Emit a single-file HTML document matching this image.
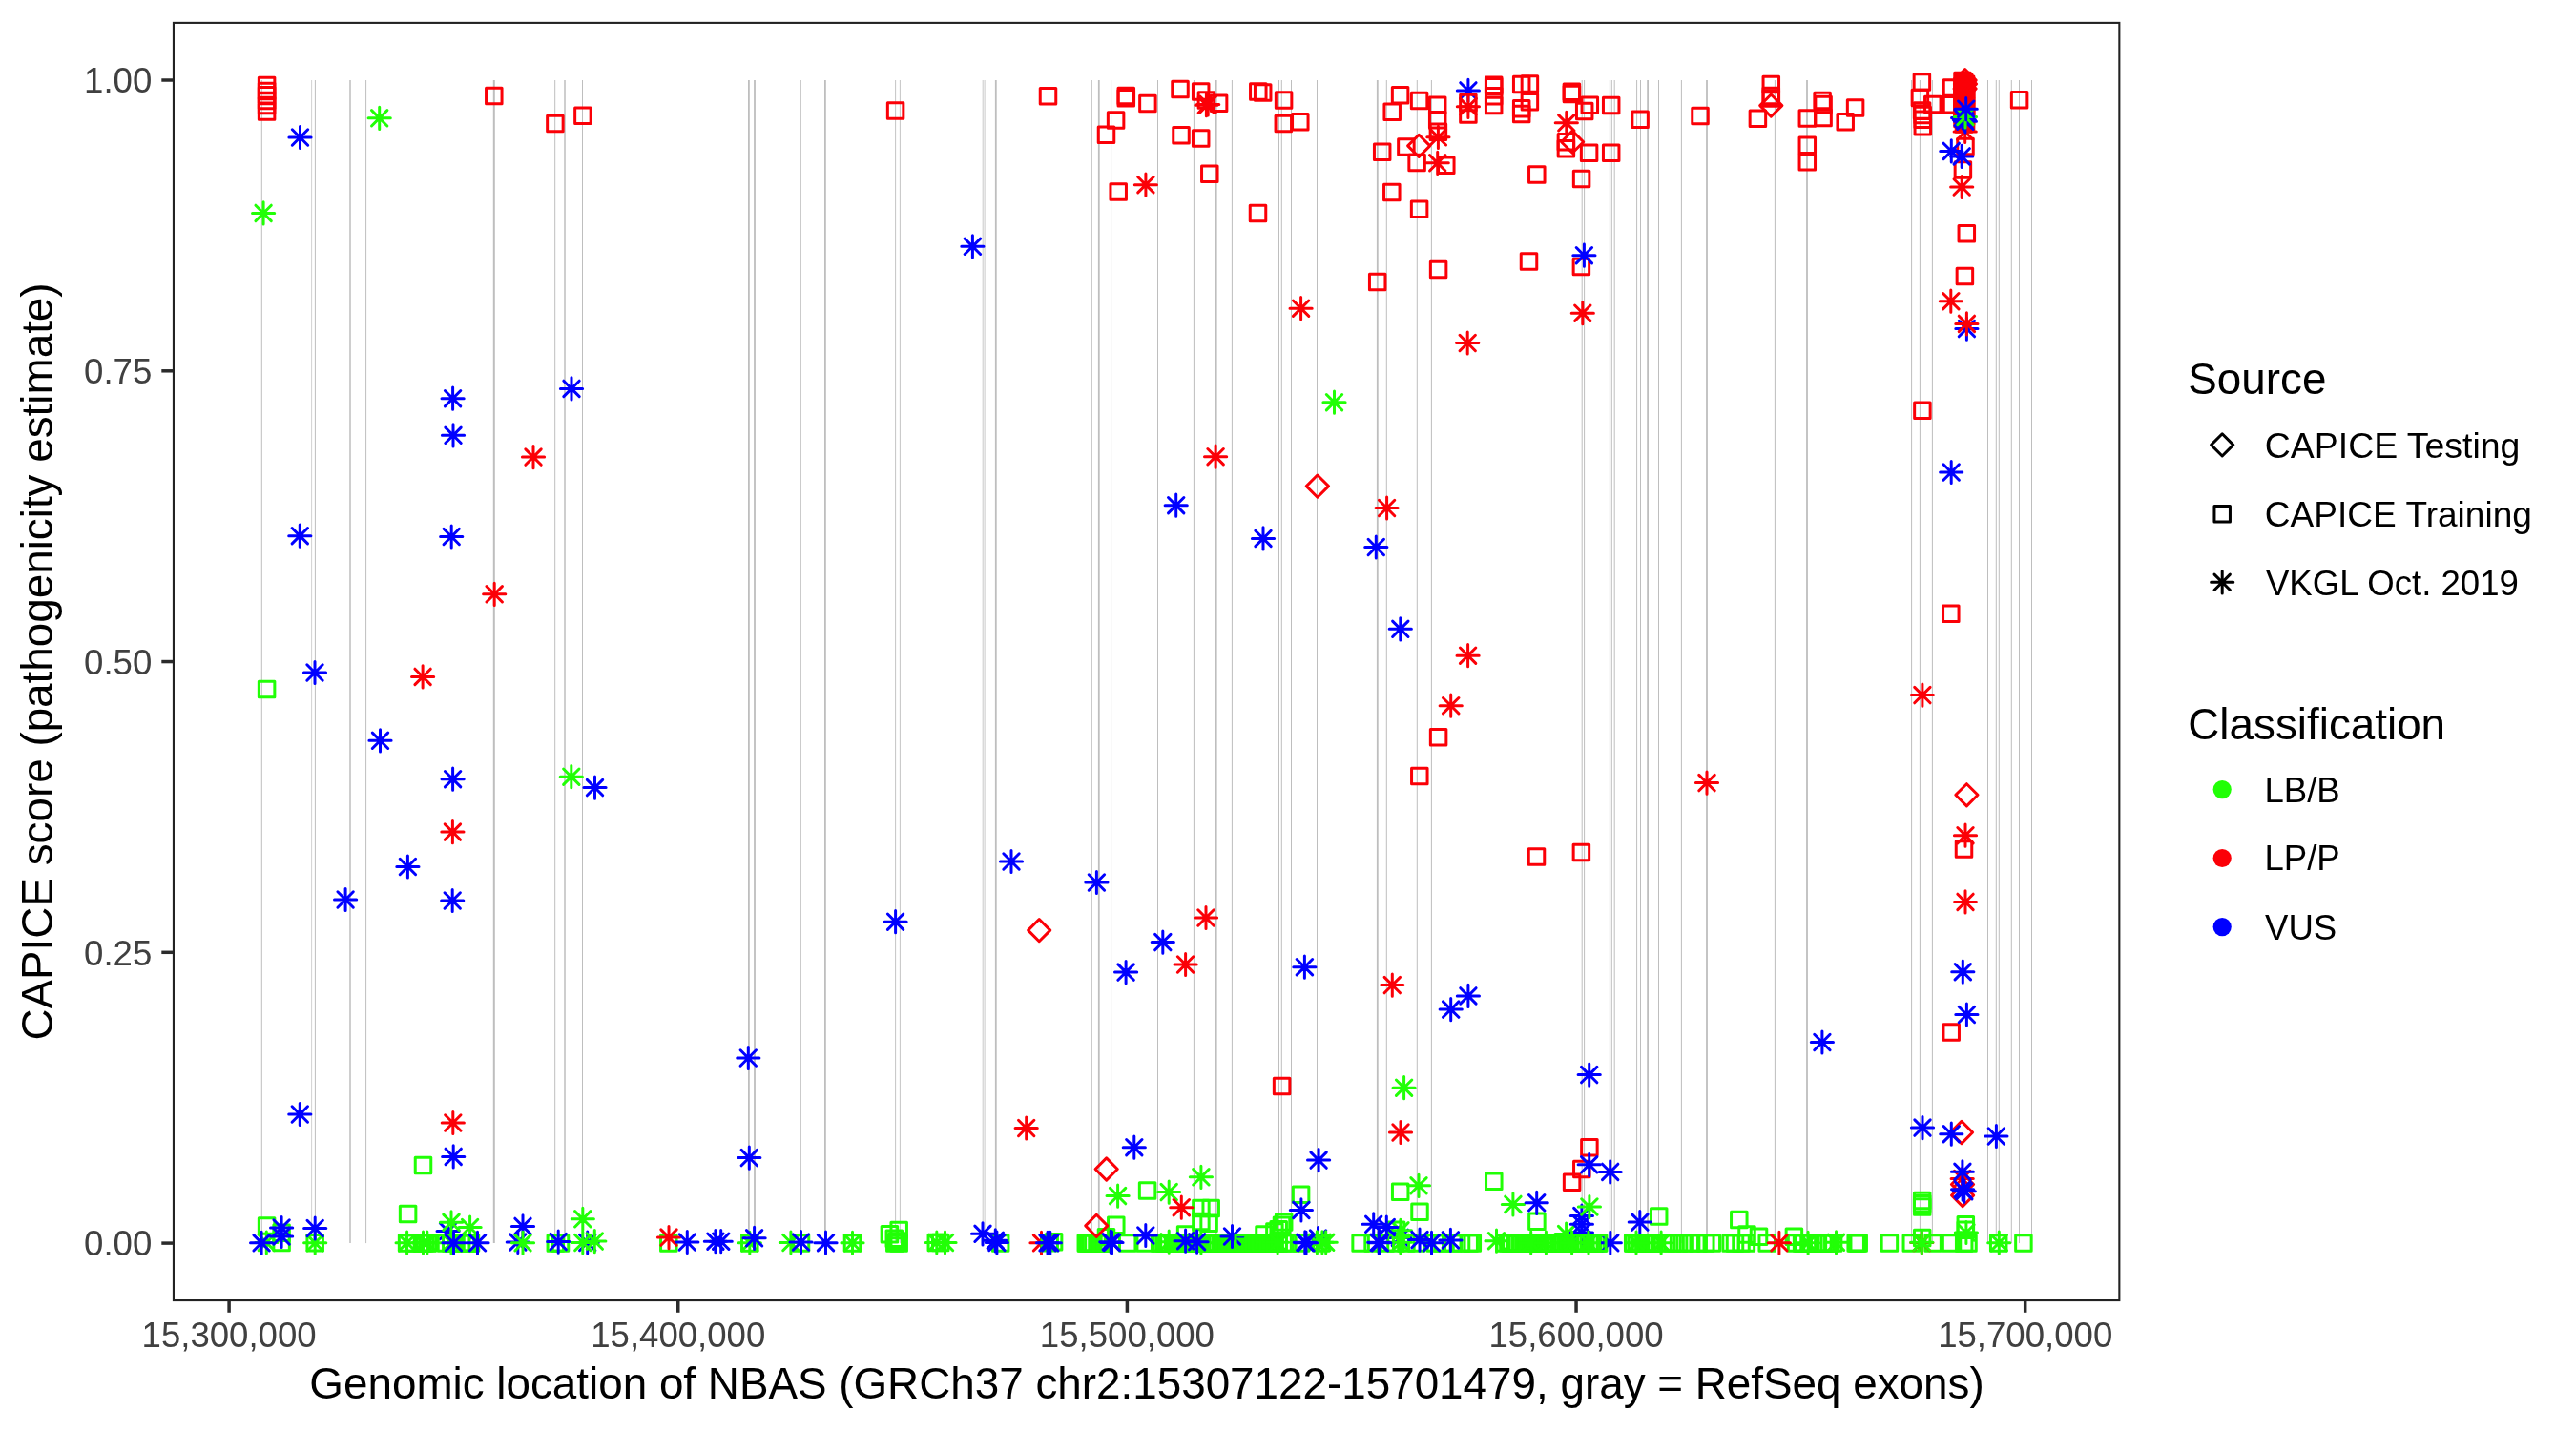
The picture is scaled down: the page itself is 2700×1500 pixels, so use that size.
<!DOCTYPE html>
<html lang="en"><head><meta charset="utf-8"><title>CAPICE score NBAS</title>
<style>
html,body{margin:0;padding:0;background:#fff;}
svg{display:block;will-change:transform;font-family:"Liberation Sans",sans-serif;}
.tk{font-size:36.6px;fill:#404040;}
.ax{font-size:45.8px;fill:#000;}
.lt{font-size:45.8px;fill:#000;}
.ll{font-size:36.6px;fill:#000;}
.pt{fill:none;stroke-width:3.0;stroke-linecap:round;stroke-linejoin:round;}
.r{stroke:#FB0007}.g{stroke:#21FF06}.b{stroke:#0000FF}
</style></head><body>
<svg width="2700" height="1500" viewBox="0 0 2700 1500">
<defs>
<rect id="s" x="-8.25" y="-8.25" width="16.5" height="16.5"/>
<path id="a" d="M-11.6 0H11.6 M0 -11.6V11.6 M-8.2 -8.2L8.2 8.2 M-8.2 8.2L8.2 -8.2"/>
<path id="d" d="M-11.6 0L0 -11.6L11.6 0L0 11.6Z"/>
</defs>
<rect width="2700" height="1500" fill="#fff"/>
<g stroke="#bebebe">
<line x1="274.3" x2="274.3" y1="84" y2="1303.1" stroke-width="1.0"/>
<line x1="326.6" x2="326.6" y1="84" y2="1303.1" stroke-width="0.7"/>
<line x1="330.4" x2="330.4" y1="84" y2="1303.1" stroke-width="1.0"/>
<line x1="367" x2="367" y1="84" y2="1303.1" stroke-width="1.5"/>
<line x1="383.6" x2="383.6" y1="84" y2="1303.1" stroke-width="1.0"/>
<line x1="517.8" x2="517.8" y1="84" y2="1303.1" stroke-width="2.0"/>
<line x1="581.7" x2="581.7" y1="84" y2="1303.1" stroke-width="1.0"/>
<line x1="592" x2="592" y1="84" y2="1303.1" stroke-width="1.5"/>
<line x1="610.5" x2="610.5" y1="84" y2="1303.1" stroke-width="1.0"/>
<line x1="784.9" x2="784.9" y1="84" y2="1303.1" stroke-width="1.8"/>
<line x1="791" x2="791" y1="84" y2="1303.1" stroke-width="1.8"/>
<line x1="839.4" x2="839.4" y1="84" y2="1303.1" stroke-width="0.9"/>
<line x1="864.9" x2="864.9" y1="84" y2="1303.1" stroke-width="1.8"/>
<line x1="938.6" x2="938.6" y1="84" y2="1303.1" stroke-width="0.9"/>
<line x1="943.4" x2="943.4" y1="84" y2="1303.1" stroke-width="0.9"/>
<line x1="1030.2" x2="1030.2" y1="84" y2="1303.1" stroke-width="0.85"/>
<line x1="1032.1" x2="1032.1" y1="84" y2="1303.1" stroke-width="0.85"/>
<line x1="1043.8" x2="1043.8" y1="84" y2="1303.1" stroke-width="1.8"/>
<line x1="1144.4" x2="1144.4" y1="84" y2="1303.1" stroke-width="0.9"/>
<line x1="1151.8" x2="1151.8" y1="84" y2="1303.1" stroke-width="1.8"/>
<line x1="1164.6" x2="1164.6" y1="84" y2="1303.1" stroke-width="0.9"/>
<line x1="1213.5" x2="1213.5" y1="84" y2="1303.1" stroke-width="1.0"/>
<line x1="1251.4" x2="1251.4" y1="84" y2="1303.1" stroke-width="1.0"/>
<line x1="1274.7" x2="1274.7" y1="84" y2="1303.1" stroke-width="1.8"/>
<line x1="1291.4" x2="1291.4" y1="84" y2="1303.1" stroke-width="1.0"/>
<line x1="1340.5" x2="1340.5" y1="84" y2="1303.1" stroke-width="1.0"/>
<line x1="1343.3" x2="1343.3" y1="84" y2="1303.1" stroke-width="1.0"/>
<line x1="1353.5" x2="1353.5" y1="84" y2="1303.1" stroke-width="1.0"/>
<line x1="1380.5" x2="1380.5" y1="84" y2="1303.1" stroke-width="1.0"/>
<line x1="1443.8" x2="1443.8" y1="84" y2="1303.1" stroke-width="1.8"/>
<line x1="1453.3" x2="1453.3" y1="84" y2="1303.1" stroke-width="1.0"/>
<line x1="1485.3" x2="1485.3" y1="84" y2="1303.1" stroke-width="1.0"/>
<line x1="1500.4" x2="1500.4" y1="84" y2="1303.1" stroke-width="1.0"/>
<line x1="1658.2" x2="1658.2" y1="84" y2="1303.1" stroke-width="1.0"/>
<line x1="1660.6" x2="1660.6" y1="84" y2="1303.1" stroke-width="1.0"/>
<line x1="1687.4" x2="1687.4" y1="84" y2="1303.1" stroke-width="1.0"/>
<line x1="1689.3" x2="1689.3" y1="84" y2="1303.1" stroke-width="1.0"/>
<line x1="1692.2" x2="1692.2" y1="84" y2="1303.1" stroke-width="1.0"/>
<line x1="1715.6" x2="1715.6" y1="84" y2="1303.1" stroke-width="1.0"/>
<line x1="1719.5" x2="1719.5" y1="84" y2="1303.1" stroke-width="1.0"/>
<line x1="1727.1" x2="1727.1" y1="84" y2="1303.1" stroke-width="1.8"/>
<line x1="1738.5" x2="1738.5" y1="84" y2="1303.1" stroke-width="1.0"/>
<line x1="1762.4" x2="1762.4" y1="84" y2="1303.1" stroke-width="1.0"/>
<line x1="1789" x2="1789" y1="84" y2="1303.1" stroke-width="1.8"/>
<line x1="1860.4" x2="1860.4" y1="84" y2="1303.1" stroke-width="1.0"/>
<line x1="1894" x2="1894" y1="84" y2="1303.1" stroke-width="1.8"/>
<line x1="2003.6" x2="2003.6" y1="84" y2="1303.1" stroke-width="1.0"/>
<line x1="2012.4" x2="2012.4" y1="84" y2="1303.1" stroke-width="1.0"/>
<line x1="2025.4" x2="2025.4" y1="84" y2="1303.1" stroke-width="1.0"/>
<line x1="2083.5" x2="2083.5" y1="84" y2="1303.1" stroke-width="1.0"/>
<line x1="2092.3" x2="2092.3" y1="84" y2="1303.1" stroke-width="1.0"/>
<line x1="2095.3" x2="2095.3" y1="84" y2="1303.1" stroke-width="1.0"/>
<line x1="2108.3" x2="2108.3" y1="84" y2="1303.1" stroke-width="1.0"/>
<line x1="2116.5" x2="2116.5" y1="84" y2="1303.1" stroke-width="1.0"/>
<line x1="2129.5" x2="2129.5" y1="84" y2="1303.1" stroke-width="1.0"/>
</g>
<g class="pt">
<use href="#s" class="g" x="1156.6" y="1303.1"/>
<use href="#s" class="g" x="1154.4" y="1303.1"/>
<use href="#s" class="g" x="1152.2" y="1303.1"/>
<use href="#s" class="g" x="1150" y="1303.1"/>
<use href="#s" class="g" x="1143.4" y="1303.1"/>
<use href="#s" class="g" x="1141.2" y="1303.1"/>
<use href="#s" class="g" x="1139" y="1303.1"/>
<use href="#s" class="g" x="1921.6" y="1303.1"/>
<use href="#s" class="g" x="1913.4" y="1303.1"/>
<use href="#s" class="g" x="1905.4" y="1303.1"/>
<use href="#s" class="g" x="1896" y="1303.1"/>
<use href="#s" class="g" x="1888.6" y="1303.1"/>
<use href="#s" class="g" x="1734" y="1303.1"/>
<use href="#s" class="g" x="1729.5" y="1303.1"/>
<use href="#s" class="g" x="1726.1" y="1303.1"/>
<use href="#s" class="g" x="1722.9" y="1303.1"/>
<use href="#s" class="g" x="1719.6" y="1303.1"/>
<use href="#s" class="g" x="1715.3" y="1303.1"/>
<use href="#s" class="g" x="1712.3" y="1303.1"/>
<use href="#s" class="g" x="1675.7" y="1303.1"/>
<use href="#s" class="g" x="1672.7" y="1303.1"/>
<use href="#s" class="g" x="1669.4" y="1303.1"/>
<use href="#s" class="g" x="1665.8" y="1303.1"/>
<use href="#s" class="g" x="1661.6" y="1303.1"/>
<use href="#s" class="g" x="1658.8" y="1303.1"/>
<use href="#s" class="g" x="1655.8" y="1303.1"/>
<use href="#s" class="g" x="1652.2" y="1303.1"/>
<use href="#s" class="g" x="1648.9" y="1303.1"/>
<use href="#s" class="g" x="1645.2" y="1303.1"/>
<use href="#s" class="g" x="1642.1" y="1303.1"/>
<use href="#s" class="g" x="1638.3" y="1303.1"/>
<use href="#s" class="g" x="1634.9" y="1303.1"/>
<use href="#s" class="g" x="1631.2" y="1303.1"/>
<use href="#s" class="g" x="1627.9" y="1303.1"/>
<use href="#s" class="g" x="1624.6" y="1303.1"/>
<use href="#s" class="g" x="1621" y="1303.1"/>
<use href="#s" class="g" x="1618" y="1303.1"/>
<use href="#s" class="g" x="1614.3" y="1303.1"/>
<use href="#s" class="g" x="1611.6" y="1303.1"/>
<use href="#s" class="g" x="1607.3" y="1303.1"/>
<use href="#s" class="g" x="1603.8" y="1303.1"/>
<use href="#s" class="g" x="1600.3" y="1303.1"/>
<use href="#s" class="g" x="1597.9" y="1303.1"/>
<use href="#s" class="g" x="1594.5" y="1303.1"/>
<use href="#s" class="g" x="1590.5" y="1303.1"/>
<use href="#s" class="g" x="1587.6" y="1303.1"/>
<use href="#s" class="g" x="1583.7" y="1303.1"/>
<use href="#s" class="g" x="1580.9" y="1303.1"/>
<use href="#s" class="g" x="1577.3" y="1303.1"/>
<use href="#s" class="g" x="1349.9" y="1303.1"/>
<use href="#s" class="g" x="1345.1" y="1303.1"/>
<use href="#s" class="g" x="1340.2" y="1303.1"/>
<use href="#s" class="g" x="1336" y="1303.1"/>
<use href="#s" class="g" x="1330.4" y="1303.1"/>
<use href="#s" class="g" x="1326.2" y="1303.1"/>
<use href="#s" class="g" x="1321.9" y="1303.1"/>
<use href="#s" class="g" x="1317.5" y="1303.1"/>
<use href="#s" class="g" x="1312.1" y="1303.1"/>
<use href="#s" class="g" x="1308.2" y="1303.1"/>
<use href="#s" class="g" x="1303.7" y="1303.1"/>
<use href="#s" class="g" x="1298.8" y="1303.1"/>
<use href="#s" class="g" x="1294.6" y="1303.1"/>
<use href="#s" class="g" x="1289.8" y="1303.1"/>
<use href="#s" class="g" x="1284.6" y="1303.1"/>
<use href="#s" class="g" x="1280.6" y="1303.1"/>
<use href="#s" class="g" x="1275.8" y="1303.1"/>
<use href="#s" class="g" x="1271.6" y="1303.1"/>
<use href="#s" class="g" x="1266.6" y="1303.1"/>
<use href="#s" class="g" x="1262.6" y="1303.1"/>
<use href="#s" class="g" x="1257.1" y="1303.1"/>
<use href="#s" class="g" x="1252.5" y="1303.1"/>
<use href="#s" class="g" x="1248.6" y="1303.1"/>
<use href="#s" class="g" x="1243" y="1303.1"/>
<use href="#s" class="g" x="1238.5" y="1303.1"/>
<use href="#s" class="g" x="1234.6" y="1303.1"/>
<use href="#s" class="g" x="1229.9" y="1303.1"/>
<use href="#s" class="g" x="1225" y="1303.1"/>
<use href="#s" class="g" x="1220.7" y="1303.1"/>
<use href="#s" class="g" x="1215.7" y="1303.1"/>
<use href="#s" class="r" x="279.6" y="89.4"/>
<use href="#s" class="r" x="279.6" y="95.4"/>
<use href="#s" class="r" x="279.6" y="99.7"/>
<use href="#s" class="r" x="279.6" y="105.5"/>
<use href="#s" class="r" x="279.6" y="110.6"/>
<use href="#s" class="r" x="279.6" y="116.9"/>
<use href="#a" class="b" x="314.5" y="144"/>
<use href="#a" class="g" x="397.7" y="123.8"/>
<use href="#a" class="g" x="276.1" y="223.4"/>
<use href="#s" class="r" x="517.8" y="100.6"/>
<use href="#s" class="r" x="581.9" y="129.5"/>
<use href="#s" class="r" x="610.9" y="121.2"/>
<use href="#a" class="b" x="474.6" y="417.7"/>
<use href="#a" class="b" x="475" y="456.3"/>
<use href="#a" class="b" x="599" y="407.4"/>
<use href="#a" class="b" x="314.3" y="561.7"/>
<use href="#a" class="b" x="473.2" y="562.5"/>
<use href="#a" class="r" x="559" y="479.1"/>
<use href="#a" class="r" x="518.2" y="622.8"/>
<use href="#a" class="r" x="443.1" y="709.4"/>
<use href="#a" class="b" x="330" y="705"/>
<use href="#a" class="b" x="398.5" y="776.3"/>
<use href="#a" class="b" x="474.6" y="816.7"/>
<use href="#a" class="b" x="623.5" y="825.6"/>
<use href="#s" class="g" x="279.6" y="722.4"/>
<use href="#a" class="g" x="598.8" y="814.2"/>
<use href="#a" class="r" x="474.4" y="872.1"/>
<use href="#a" class="b" x="427.4" y="908.5"/>
<use href="#a" class="b" x="362.1" y="943"/>
<use href="#a" class="b" x="474.2" y="944"/>
<use href="#a" class="b" x="314.3" y="1168"/>
<use href="#a" class="b" x="475.2" y="1212.4"/>
<use href="#a" class="r" x="474.8" y="1177"/>
<use href="#s" class="g" x="443.5" y="1221.5"/>
<use href="#s" class="g" x="427.6" y="1272.6"/>
<use href="#s" class="g" x="279.6" y="1285.1"/>
<use href="#s" class="g" x="295.1" y="1302.5"/>
<use href="#s" class="g" x="330.2" y="1302.8"/>
<use href="#s" class="g" x="295.1" y="1292.2"/>
<use href="#a" class="g" x="279.3" y="1302.5"/>
<use href="#a" class="g" x="330.2" y="1302.8"/>
<use href="#a" class="b" x="295.1" y="1287"/>
<use href="#a" class="b" x="295.1" y="1296"/>
<use href="#a" class="b" x="274.1" y="1302.8"/>
<use href="#a" class="b" x="330.2" y="1287.5"/>
<use href="#s" class="g" x="426.6" y="1303"/>
<use href="#s" class="g" x="434.5" y="1303"/>
<use href="#s" class="g" x="442.4" y="1303"/>
<use href="#s" class="g" x="445.5" y="1303"/>
<use href="#s" class="g" x="448.4" y="1303"/>
<use href="#a" class="g" x="426.6" y="1302.7"/>
<use href="#a" class="g" x="443.5" y="1302.7"/>
<use href="#a" class="g" x="447.8" y="1302.7"/>
<use href="#a" class="b" x="469.6" y="1290.5"/>
<use href="#a" class="g" x="473" y="1281.3"/>
<use href="#a" class="g" x="492.6" y="1286.5"/>
<use href="#s" class="g" x="472.8" y="1303"/>
<use href="#s" class="g" x="483.7" y="1303"/>
<use href="#s" class="g" x="493.5" y="1303"/>
<use href="#s" class="g" x="467.5" y="1303"/>
<use href="#s" class="g" x="478" y="1303"/>
<use href="#s" class="g" x="488.5" y="1303"/>
<use href="#s" class="g" x="491" y="1303"/>
<use href="#a" class="g" x="473" y="1302.7"/>
<use href="#a" class="b" x="475.5" y="1302.8"/>
<use href="#a" class="b" x="500.5" y="1302.8"/>
<use href="#a" class="b" x="548" y="1285.4"/>
<use href="#a" class="b" x="542.8" y="1302"/>
<use href="#a" class="g" x="548" y="1302.8"/>
<use href="#s" class="g" x="582.3" y="1303"/>
<use href="#s" class="g" x="587.5" y="1303"/>
<use href="#a" class="b" x="585.2" y="1301.6"/>
<use href="#a" class="b" x="615.7" y="1302.5"/>
<use href="#a" class="g" x="610.8" y="1277.8"/>
<use href="#a" class="g" x="610.8" y="1302.5"/>
<use href="#a" class="g" x="623.3" y="1301.1"/>
<use href="#s" class="g" x="700.8" y="1303"/>
<use href="#a" class="r" x="701" y="1297.1"/>
<use href="#a" class="b" x="720.3" y="1302"/>
<use href="#a" class="b" x="749.9" y="1301.2"/>
<use href="#a" class="b" x="755.7" y="1301.2"/>
<use href="#s" class="g" x="785.8" y="1303"/>
<use href="#a" class="g" x="785.8" y="1302.8"/>
<use href="#a" class="b" x="785.3" y="1213.6"/>
<use href="#a" class="b" x="790.6" y="1297.8"/>
<use href="#s" class="r" x="938.6" y="115.9"/>
<use href="#s" class="r" x="1098.5" y="100.8"/>
<use href="#s" class="r" x="1180.3" y="100.6"/>
<use href="#s" class="r" x="1180.3" y="102.7"/>
<use href="#s" class="r" x="1202.9" y="108.4"/>
<use href="#s" class="r" x="1169.6" y="126"/>
<use href="#s" class="r" x="1159.5" y="141.2"/>
<use href="#s" class="r" x="1172.2" y="201.1"/>
<use href="#a" class="r" x="1200.9" y="193.7"/>
<use href="#a" class="b" x="1019.4" y="258.3"/>
<use href="#a" class="b" x="1060" y="903"/>
<use href="#a" class="b" x="1149.4" y="925"/>
<use href="#a" class="b" x="938.6" y="966.2"/>
<use href="#a" class="b" x="1180.1" y="1019.1"/>
<use href="#a" class="b" x="784.3" y="1109"/>
<use href="#d" class="r" x="1089.2" y="975.1"/>
<use href="#a" class="g" x="828.9" y="1302.5"/>
<use href="#s" class="g" x="839.5" y="1303"/>
<use href="#a" class="b" x="839.5" y="1302"/>
<use href="#a" class="b" x="865.5" y="1302.7"/>
<use href="#s" class="g" x="893.5" y="1303"/>
<use href="#a" class="g" x="893.5" y="1302.8"/>
<use href="#s" class="g" x="932.4" y="1293.8"/>
<use href="#s" class="g" x="942.2" y="1289.5"/>
<use href="#s" class="g" x="937.3" y="1298.2"/>
<use href="#s" class="g" x="937.8" y="1303"/>
<use href="#s" class="g" x="942.2" y="1303"/>
<use href="#s" class="g" x="940" y="1300.9"/>
<use href="#s" class="g" x="981.3" y="1302.5"/>
<use href="#s" class="g" x="985.7" y="1302.5"/>
<use href="#a" class="g" x="981.8" y="1302.5"/>
<use href="#a" class="g" x="990.5" y="1302.5"/>
<use href="#s" class="g" x="1048.7" y="1303"/>
<use href="#a" class="b" x="1030" y="1293.3"/>
<use href="#a" class="b" x="1043.3" y="1300.3"/>
<use href="#a" class="b" x="1044.9" y="1302.5"/>
<use href="#a" class="r" x="1075.7" y="1182.5"/>
<use href="#a" class="r" x="1091.5" y="1302.8"/>
<use href="#s" class="g" x="1100.2" y="1302.8"/>
<use href="#s" class="g" x="1104.6" y="1301.7"/>
<use href="#a" class="b" x="1098" y="1302.8"/>
<use href="#a" class="b" x="1100.8" y="1302.8"/>
<use href="#a" class="b" x="1188.8" y="1202.7"/>
<use href="#s" class="g" x="1138.3" y="1303"/>
<use href="#s" class="g" x="1145.9" y="1303"/>
<use href="#s" class="g" x="1154.6" y="1303"/>
<use href="#s" class="g" x="1181.7" y="1303"/>
<use href="#s" class="g" x="1200.2" y="1303"/>
<use href="#s" class="g" x="1217.6" y="1303"/>
<use href="#s" class="g" x="1223" y="1303"/>
<use href="#s" class="g" x="1229.6" y="1303"/>
<use href="#s" class="g" x="1236.1" y="1303"/>
<use href="#s" class="g" x="1244.8" y="1303"/>
<use href="#s" class="g" x="1251.3" y="1303"/>
<use href="#s" class="g" x="1258.9" y="1303"/>
<use href="#s" class="g" x="1266.5" y="1303"/>
<use href="#s" class="g" x="1273" y="1303"/>
<use href="#s" class="g" x="1279.6" y="1303"/>
<use href="#s" class="g" x="1286.1" y="1303"/>
<use href="#s" class="g" x="1294.8" y="1303"/>
<use href="#s" class="g" x="1302.4" y="1303"/>
<use href="#s" class="g" x="1310" y="1303"/>
<use href="#s" class="g" x="1317.6" y="1303"/>
<use href="#s" class="g" x="1325.2" y="1303"/>
<use href="#s" class="g" x="1332.8" y="1303"/>
<use href="#s" class="g" x="1169.8" y="1284.3"/>
<use href="#s" class="g" x="1159.5" y="1296.8"/>
<use href="#s" class="g" x="1202.6" y="1247.9"/>
<use href="#s" class="g" x="1258.9" y="1266.4"/>
<use href="#s" class="g" x="1269.2" y="1266.4"/>
<use href="#s" class="g" x="1258.9" y="1280.5"/>
<use href="#s" class="g" x="1267.1" y="1282.2"/>
<use href="#s" class="g" x="1242.6" y="1294.1"/>
<use href="#a" class="g" x="1171.6" y="1253.6"/>
<use href="#a" class="g" x="1225.2" y="1249.6"/>
<use href="#a" class="g" x="1258.9" y="1233.8"/>
<use href="#a" class="g" x="1225.2" y="1301.7"/>
<use href="#a" class="g" x="1258.9" y="1302.7"/>
<use href="#a" class="r" x="1238.3" y="1265.7"/>
<use href="#d" class="r" x="1159.7" y="1225.5"/>
<use href="#d" class="r" x="1149.3" y="1284.9"/>
<use href="#a" class="b" x="1164.3" y="1301.7"/>
<use href="#a" class="b" x="1165.5" y="1302.5"/>
<use href="#a" class="b" x="1200.8" y="1295"/>
<use href="#a" class="b" x="1242.6" y="1300.7"/>
<use href="#a" class="b" x="1254.6" y="1301.7"/>
<use href="#a" class="b" x="1291.5" y="1296"/>
<use href="#s" class="g" x="1363.6" y="1252.3"/>
<use href="#s" class="g" x="1345.7" y="1281.1"/>
<use href="#s" class="g" x="1343.5" y="1284.3"/>
<use href="#s" class="g" x="1340.2" y="1288.7"/>
<use href="#s" class="g" x="1335.9" y="1290.9"/>
<use href="#s" class="g" x="1325" y="1294.1"/>
<use href="#s" class="g" x="1303.3" y="1303"/>
<use href="#s" class="g" x="1314.1" y="1303"/>
<use href="#s" class="g" x="1321.7" y="1303"/>
<use href="#s" class="g" x="1329.3" y="1303"/>
<use href="#s" class="g" x="1335.9" y="1303"/>
<use href="#s" class="g" x="1363.6" y="1303"/>
<use href="#s" class="g" x="1384.8" y="1303"/>
<use href="#a" class="b" x="1381.5" y="1298"/>
<use href="#a" class="g" x="1339.1" y="1302.3"/>
<use href="#a" class="g" x="1380.4" y="1302.3"/>
<use href="#a" class="g" x="1385.9" y="1302.3"/>
<use href="#a" class="g" x="1389.7" y="1302.3"/>
<use href="#a" class="b" x="1363.9" y="1268.4"/>
<use href="#a" class="b" x="1367.8" y="1302.3"/>
<use href="#a" class="b" x="1369" y="1302.8"/>
<use href="#a" class="b" x="1382.1" y="1216.1"/>
<use href="#s" class="r" x="1343.6" y="1138.6"/>
<use href="#s" class="g" x="1467.7" y="1249.3"/>
<use href="#s" class="g" x="1488" y="1270.2"/>
<use href="#s" class="g" x="1565.8" y="1238.2"/>
<use href="#s" class="g" x="1463.6" y="1289.2"/>
<use href="#a" class="b" x="1467.4" y="1297.4"/>
<use href="#a" class="g" x="1487" y="1242.8"/>
<use href="#a" class="g" x="1471.6" y="1140.2"/>
<use href="#a" class="g" x="1467.9" y="1289.8"/>
<use href="#a" class="g" x="1467.9" y="1302.3"/>
<use href="#a" class="g" x="1568.5" y="1300.7"/>
<use href="#a" class="g" x="1585.9" y="1262.4"/>
<use href="#a" class="r" x="1468" y="1187"/>
<use href="#s" class="g" x="1426.1" y="1303"/>
<use href="#s" class="g" x="1439.1" y="1303"/>
<use href="#s" class="g" x="1452.2" y="1303"/>
<use href="#s" class="g" x="1463" y="1303"/>
<use href="#s" class="g" x="1473.9" y="1303"/>
<use href="#s" class="g" x="1484.8" y="1303"/>
<use href="#s" class="g" x="1504.3" y="1303"/>
<use href="#s" class="g" x="1512" y="1303"/>
<use href="#s" class="g" x="1522.8" y="1303"/>
<use href="#s" class="g" x="1531.5" y="1303"/>
<use href="#s" class="g" x="1540.2" y="1303"/>
<use href="#s" class="g" x="1543.3" y="1303"/>
<use href="#a" class="b" x="1439.7" y="1283.3"/>
<use href="#a" class="b" x="1453.3" y="1286.5"/>
<use href="#a" class="b" x="1445.2" y="1302.3"/>
<use href="#a" class="b" x="1446.4" y="1302.8"/>
<use href="#a" class="b" x="1488" y="1299.6"/>
<use href="#a" class="b" x="1500.5" y="1302.8"/>
<use href="#a" class="b" x="1520.4" y="1299.9"/>
<use href="#s" class="g" x="1610.9" y="1280.2"/>
<use href="#s" class="g" x="1738.7" y="1275.1"/>
<use href="#s" class="r" x="1647.6" y="1239.2"/>
<use href="#s" class="r" x="1657.8" y="1225.4"/>
<use href="#s" class="r" x="1665.9" y="1202.8"/>
<use href="#a" class="g" x="1641.6" y="1293.6"/>
<use href="#a" class="b" x="1610.7" y="1260.8"/>
<use href="#a" class="b" x="1665.7" y="1126.6"/>
<use href="#a" class="b" x="1665.7" y="1220.8"/>
<use href="#a" class="b" x="1687.7" y="1228.4"/>
<use href="#a" class="b" x="1657.9" y="1274.6"/>
<use href="#a" class="b" x="1657.9" y="1283.3"/>
<use href="#a" class="b" x="1657.9" y="1292"/>
<use href="#a" class="b" x="1687.8" y="1302.8"/>
<use href="#a" class="b" x="1718.8" y="1281.1"/>
<use href="#a" class="g" x="1665.9" y="1265"/>
<use href="#s" class="g" x="1583.5" y="1303"/>
<use href="#s" class="g" x="1588.9" y="1303"/>
<use href="#s" class="g" x="1594.3" y="1303"/>
<use href="#s" class="g" x="1600.9" y="1303"/>
<use href="#s" class="g" x="1607.4" y="1303"/>
<use href="#s" class="g" x="1613.9" y="1303"/>
<use href="#s" class="g" x="1620.4" y="1303"/>
<use href="#s" class="g" x="1627" y="1303"/>
<use href="#s" class="g" x="1634.6" y="1303"/>
<use href="#s" class="g" x="1641.1" y="1303"/>
<use href="#s" class="g" x="1648.7" y="1303"/>
<use href="#s" class="g" x="1655.2" y="1303"/>
<use href="#s" class="g" x="1661.7" y="1303"/>
<use href="#s" class="g" x="1668.3" y="1303"/>
<use href="#s" class="g" x="1674.8" y="1303"/>
<use href="#s" class="g" x="1711.7" y="1303"/>
<use href="#s" class="g" x="1718.3" y="1303"/>
<use href="#s" class="g" x="1724.8" y="1303"/>
<use href="#s" class="g" x="1731.3" y="1303"/>
<use href="#s" class="g" x="1746.5" y="1303"/>
<use href="#s" class="g" x="1753" y="1303"/>
<use href="#s" class="g" x="1759.6" y="1303"/>
<use href="#s" class="g" x="1766.1" y="1303"/>
<use href="#s" class="g" x="1772.6" y="1303"/>
<use href="#s" class="g" x="1780.2" y="1303"/>
<use href="#s" class="g" x="1787.8" y="1303"/>
<use href="#s" class="g" x="1794.3" y="1303"/>
<use href="#a" class="g" x="1604.7" y="1302.7"/>
<use href="#a" class="g" x="1620.4" y="1302.7"/>
<use href="#a" class="g" x="1647.6" y="1302.7"/>
<use href="#a" class="g" x="1665" y="1302.7"/>
<use href="#a" class="g" x="1715" y="1302.7"/>
<use href="#a" class="g" x="1741.1" y="1302.7"/>
<use href="#s" class="g" x="1822.8" y="1278.4"/>
<use href="#s" class="g" x="1831" y="1294.1"/>
<use href="#s" class="g" x="1843.5" y="1296.3"/>
<use href="#s" class="g" x="1880.4" y="1296.3"/>
<use href="#s" class="g" x="1814.1" y="1303"/>
<use href="#s" class="g" x="1818.5" y="1303"/>
<use href="#s" class="g" x="1825" y="1303"/>
<use href="#s" class="g" x="1830.4" y="1303"/>
<use href="#s" class="g" x="1852.2" y="1303"/>
<use href="#s" class="g" x="1882.6" y="1303"/>
<use href="#s" class="g" x="1890.2" y="1303"/>
<use href="#s" class="g" x="1897.8" y="1303"/>
<use href="#s" class="g" x="1904.3" y="1303"/>
<use href="#s" class="g" x="1910.9" y="1303"/>
<use href="#s" class="g" x="1917.4" y="1303"/>
<use href="#s" class="g" x="1945.2" y="1303"/>
<use href="#s" class="g" x="1946.7" y="1303"/>
<use href="#s" class="g" x="1948.2" y="1303"/>
<use href="#s" class="g" x="1980.4" y="1303"/>
<use href="#s" class="g" x="2003.3" y="1303"/>
<use href="#s" class="g" x="2026.1" y="1303"/>
<use href="#s" class="g" x="2044.6" y="1303"/>
<use href="#s" class="g" x="2058.7" y="1303"/>
<use href="#s" class="g" x="2063" y="1303"/>
<use href="#s" class="g" x="2094.7" y="1303"/>
<use href="#s" class="g" x="2120.9" y="1303"/>
<use href="#a" class="r" x="1864.9" y="1302.8"/>
<use href="#a" class="r" x="2014.3" y="1302.5"/>
<use href="#a" class="g" x="1895.1" y="1302.8"/>
<use href="#a" class="g" x="1924.5" y="1302.3"/>
<use href="#a" class="g" x="2014.3" y="1302.3"/>
<use href="#a" class="g" x="2060.9" y="1292"/>
<use href="#a" class="g" x="2095.3" y="1302.7"/>
<use href="#s" class="g" x="2014.7" y="1258.4"/>
<use href="#s" class="g" x="2014.7" y="1261.7"/>
<use href="#s" class="g" x="2014.7" y="1265.1"/>
<use href="#s" class="g" x="2014.7" y="1297.4"/>
<use href="#s" class="g" x="2060.3" y="1283.8"/>
<use href="#s" class="g" x="2060.3" y="1289.2"/>
<use href="#d" class="r" x="2056" y="1187"/>
<use href="#d" class="r" x="2057" y="1241.5"/>
<use href="#d" class="r" x="2057.1" y="1253"/>
<use href="#a" class="r" x="2056.7" y="1235.5"/>
<use href="#a" class="b" x="1909.9" y="1092.5"/>
<use href="#a" class="b" x="2015" y="1182.1"/>
<use href="#a" class="b" x="2045.3" y="1188.7"/>
<use href="#a" class="b" x="2092.4" y="1191"/>
<use href="#a" class="b" x="2056.9" y="1228.3"/>
<use href="#a" class="b" x="2057.1" y="1246.7"/>
<use href="#a" class="b" x="2058.8" y="1248.7"/>
<use href="#s" class="r" x="2045.2" y="1081.9"/>
<use href="#a" class="b" x="1538.9" y="94.9"/>
<use href="#s" class="r" x="1237" y="93.5"/>
<use href="#s" class="r" x="1258.7" y="96.1"/>
<use href="#s" class="r" x="1264.4" y="104.9"/>
<use href="#s" class="r" x="1277.6" y="108.2"/>
<use href="#s" class="r" x="1238" y="141.7"/>
<use href="#s" class="r" x="1258.7" y="145"/>
<use href="#s" class="r" x="1267.8" y="182.3"/>
<use href="#s" class="r" x="1318.8" y="96.1"/>
<use href="#s" class="r" x="1323.7" y="97"/>
<use href="#s" class="r" x="1345.6" y="105.1"/>
<use href="#s" class="r" x="1345.3" y="129.5"/>
<use href="#s" class="r" x="1362.8" y="127.8"/>
<use href="#s" class="r" x="1318.5" y="223.5"/>
<use href="#s" class="r" x="1467.6" y="99.8"/>
<use href="#s" class="r" x="1487.6" y="105.4"/>
<use href="#s" class="r" x="1459.2" y="117.3"/>
<use href="#s" class="r" x="1506.7" y="110.3"/>
<use href="#s" class="r" x="1506.7" y="125.7"/>
<use href="#s" class="r" x="1507.4" y="138.3"/>
<use href="#s" class="r" x="1448.7" y="159.2"/>
<use href="#s" class="r" x="1473.9" y="153.9"/>
<use href="#s" class="r" x="1485.1" y="170.4"/>
<use href="#s" class="r" x="1515.8" y="173.2"/>
<use href="#s" class="r" x="1458.8" y="201.4"/>
<use href="#s" class="r" x="1487.6" y="219.3"/>
<use href="#s" class="r" x="1538.9" y="107.5"/>
<use href="#s" class="r" x="1538.9" y="120.1"/>
<use href="#a" class="r" x="1264.4" y="110.2"/>
<use href="#a" class="r" x="1266.2" y="109.4"/>
<use href="#a" class="r" x="1507.4" y="143.8"/>
<use href="#a" class="r" x="1506.7" y="170.8"/>
<use href="#a" class="r" x="1538.9" y="111.8"/>
<use href="#d" class="r" x="1487.2" y="152.9"/>
<use href="#s" class="r" x="1565.7" y="89.2"/>
<use href="#s" class="r" x="1565.7" y="90.7"/>
<use href="#s" class="r" x="1565.7" y="100.8"/>
<use href="#s" class="r" x="1565.7" y="110.5"/>
<use href="#s" class="r" x="1594.7" y="88.6"/>
<use href="#s" class="r" x="1603.4" y="88"/>
<use href="#s" class="r" x="1603.4" y="106.8"/>
<use href="#s" class="r" x="1594.7" y="113.8"/>
<use href="#s" class="r" x="1594.7" y="119.4"/>
<use href="#s" class="r" x="1647.4" y="96.3"/>
<use href="#s" class="r" x="1647.4" y="98.4"/>
<use href="#s" class="r" x="1666.3" y="110.3"/>
<use href="#s" class="r" x="1660.7" y="116.6"/>
<use href="#s" class="r" x="1688.7" y="110.6"/>
<use href="#s" class="r" x="1641.4" y="148.7"/>
<use href="#s" class="r" x="1641.4" y="155.7"/>
<use href="#s" class="r" x="1665.6" y="160.3"/>
<use href="#s" class="r" x="1688.7" y="160.3"/>
<use href="#s" class="r" x="1610.8" y="183"/>
<use href="#s" class="r" x="1657.6" y="187.4"/>
<use href="#s" class="r" x="1719.1" y="125.3"/>
<use href="#s" class="r" x="1782" y="121.5"/>
<use href="#s" class="r" x="1842.4" y="124.3"/>
<use href="#a" class="r" x="1641.8" y="128.8"/>
<use href="#d" class="r" x="1648.1" y="148.7"/>
<use href="#s" class="r" x="1856.3" y="88.6"/>
<use href="#s" class="r" x="1856.3" y="100.5"/>
<use href="#s" class="r" x="1856.3" y="103"/>
<use href="#s" class="r" x="1910.1" y="105.4"/>
<use href="#s" class="r" x="1911.1" y="109.6"/>
<use href="#s" class="r" x="1894.3" y="124"/>
<use href="#s" class="r" x="1911.1" y="123.6"/>
<use href="#s" class="r" x="1944.6" y="113.1"/>
<use href="#s" class="r" x="1934.2" y="127.8"/>
<use href="#s" class="r" x="1894.3" y="152.2"/>
<use href="#s" class="r" x="1894.3" y="169.7"/>
<use href="#d" class="r" x="1856.3" y="110.6"/>
<use href="#s" class="r" x="2014.4" y="86"/>
<use href="#s" class="r" x="2012.4" y="102.5"/>
<use href="#s" class="r" x="2025.8" y="109.5"/>
<use href="#s" class="r" x="2045.5" y="91.9"/>
<use href="#s" class="r" x="2045.5" y="109.7"/>
<use href="#s" class="r" x="2014.6" y="115.9"/>
<use href="#s" class="r" x="2015.2" y="120.4"/>
<use href="#s" class="r" x="2015.2" y="125.3"/>
<use href="#s" class="r" x="2015.3" y="132.7"/>
<use href="#s" class="r" x="2057" y="84.5"/>
<use href="#s" class="r" x="2058.8" y="86.4"/>
<use href="#s" class="r" x="2060.6" y="88.3"/>
<use href="#s" class="r" x="2057" y="90.2"/>
<use href="#s" class="r" x="2058.8" y="92.1"/>
<use href="#s" class="r" x="2060.6" y="94"/>
<use href="#s" class="r" x="2057" y="95.9"/>
<use href="#s" class="r" x="2058.8" y="97.8"/>
<use href="#s" class="r" x="2060.6" y="99.7"/>
<use href="#s" class="r" x="2057" y="101.6"/>
<use href="#s" class="r" x="2058.8" y="103.5"/>
<use href="#s" class="r" x="2060.6" y="105.4"/>
<use href="#s" class="r" x="2057" y="107.3"/>
<use href="#s" class="r" x="2058.8" y="109.2"/>
<use href="#s" class="r" x="2060.6" y="111.1"/>
<use href="#s" class="r" x="2057" y="113"/>
<use href="#s" class="r" x="2058.8" y="114.9"/>
<use href="#s" class="r" x="2060.6" y="116.8"/>
<use href="#s" class="r" x="2057" y="118.7"/>
<use href="#s" class="r" x="2058.8" y="120.6"/>
<use href="#s" class="r" x="2060.6" y="122.5"/>
<use href="#s" class="r" x="2057" y="124.4"/>
<use href="#s" class="r" x="2058.8" y="126.3"/>
<use href="#s" class="r" x="2060.6" y="128.2"/>
<use href="#d" class="r" x="2059.6" y="84.1"/>
<use href="#d" class="r" x="2060" y="88"/>
<use href="#d" class="r" x="2059.6" y="93"/>
<use href="#s" class="r" x="2058.5" y="130"/>
<use href="#s" class="r" x="2060" y="153.5"/>
<use href="#s" class="r" x="2057.4" y="178"/>
<use href="#s" class="r" x="2061.3" y="244.8"/>
<use href="#s" class="r" x="2116.6" y="104.7"/>
<use href="#a" class="r" x="2059.7" y="138"/>
<use href="#a" class="r" x="2056.2" y="196"/>
<use href="#a" class="b" x="2058.8" y="125.4"/>
<use href="#a" class="b" x="2057.1" y="123.5"/>
<use href="#a" class="b" x="2059.9" y="127.3"/>
<use href="#a" class="b" x="2045.3" y="158.4"/>
<use href="#a" class="b" x="2056.2" y="163.9"/>
<use href="#a" class="g" x="2060" y="122.5"/>
<use href="#a" class="b" x="2060.7" y="114.2"/>
<use href="#s" class="r" x="1443.7" y="295.5"/>
<use href="#s" class="r" x="1507.6" y="282.4"/>
<use href="#s" class="r" x="1602.5" y="273.9"/>
<use href="#s" class="r" x="1657.4" y="279.4"/>
<use href="#a" class="b" x="1660.4" y="267.7"/>
<use href="#a" class="r" x="1363.6" y="323.2"/>
<use href="#a" class="r" x="1658.8" y="328.2"/>
<use href="#a" class="r" x="1538.2" y="359.5"/>
<use href="#a" class="r" x="1274.1" y="478.7"/>
<use href="#a" class="r" x="1453.6" y="532.5"/>
<use href="#a" class="g" x="1398.5" y="421.7"/>
<use href="#d" class="r" x="1380.9" y="509.6"/>
<use href="#a" class="b" x="1232.7" y="529.7"/>
<use href="#a" class="b" x="1324" y="564.4"/>
<use href="#a" class="b" x="1442.3" y="573.5"/>
<use href="#a" class="b" x="1467.8" y="659.3"/>
<use href="#a" class="r" x="1538.6" y="687.2"/>
<use href="#a" class="r" x="1520.7" y="739.7"/>
<use href="#s" class="r" x="1507.6" y="772.8"/>
<use href="#s" class="r" x="1487.8" y="813.5"/>
<use href="#s" class="r" x="1610.5" y="897.9"/>
<use href="#s" class="r" x="1657.4" y="893.5"/>
<use href="#a" class="r" x="1264" y="962"/>
<use href="#a" class="r" x="1242.6" y="1011"/>
<use href="#a" class="r" x="1459.3" y="1032.6"/>
<use href="#a" class="b" x="1218.8" y="987.6"/>
<use href="#a" class="b" x="1367.4" y="1013.7"/>
<use href="#a" class="b" x="1538.9" y="1043.9"/>
<use href="#a" class="b" x="1520.7" y="1058.1"/>
<use href="#s" class="r" x="2059.4" y="289.5"/>
<use href="#s" class="r" x="2014.9" y="430.2"/>
<use href="#s" class="r" x="2044.8" y="643.2"/>
<use href="#s" class="r" x="2058.5" y="889.9"/>
<use href="#a" class="r" x="2044.8" y="315.7"/>
<use href="#a" class="r" x="2014.9" y="728.6"/>
<use href="#a" class="r" x="1789" y="820.6"/>
<use href="#a" class="r" x="2060" y="875.7"/>
<use href="#a" class="r" x="2060" y="945.4"/>
<use href="#a" class="b" x="2061.4" y="344.6"/>
<use href="#a" class="b" x="2045.2" y="495"/>
<use href="#a" class="b" x="2057.3" y="1018.7"/>
<use href="#a" class="b" x="2061.4" y="1063.5"/>
<use href="#a" class="r" x="2061.4" y="339.4"/>
<use href="#d" class="r" x="2061.4" y="833.3"/>
</g>
<rect x="181.95" y="23.9" width="2039.4" height="1339.15" fill="none" stroke="#222" stroke-width="2.1"/>
<g stroke="#2b2b2b" stroke-width="3.5">
<line x1="169.3" x2="181" y1="84.0" y2="84.0"/>
<line x1="169.3" x2="181" y1="388.8" y2="388.8"/>
<line x1="169.3" x2="181" y1="693.55" y2="693.55"/>
<line x1="169.3" x2="181" y1="998.3" y2="998.3"/>
<line x1="169.3" x2="181" y1="1303.1" y2="1303.1"/>
<line x1="240.1" x2="240.1" y1="1364" y2="1375.8"/>
<line x1="710.75" x2="710.75" y1="1364" y2="1375.8"/>
<line x1="1181.4" x2="1181.4" y1="1364" y2="1375.8"/>
<line x1="1652.05" x2="1652.05" y1="1364" y2="1375.8"/>
<line x1="2122.7" x2="2122.7" y1="1364" y2="1375.8"/>
</g>
<text class="tk" x="159.3" y="97.3" text-anchor="end">1.00</text>
<text class="tk" x="159.3" y="402.1" text-anchor="end">0.75</text>
<text class="tk" x="159.3" y="706.8" text-anchor="end">0.50</text>
<text class="tk" x="159.3" y="1011.6" text-anchor="end">0.25</text>
<text class="tk" x="159.3" y="1316.4" text-anchor="end">0.00</text>
<text class="tk" x="240.1" y="1412" text-anchor="middle">15,300,000</text>
<text class="tk" x="710.75" y="1412" text-anchor="middle">15,400,000</text>
<text class="tk" x="1181.4" y="1412" text-anchor="middle">15,500,000</text>
<text class="tk" x="1652.05" y="1412" text-anchor="middle">15,600,000</text>
<text class="tk" x="2122.7" y="1412" text-anchor="middle">15,700,000</text>
<text class="ax" x="1202" y="1465.7" text-anchor="middle">Genomic location of NBAS (GRCh37 chr2:15307122-15701479, gray = RefSeq exons)</text>
<text class="ax" transform="translate(55,693.5) rotate(-90)" text-anchor="middle">CAPICE score (pathogenicity estimate)</text>
<text class="lt" x="2293.3" y="413.2">Source</text>
<g fill="none" stroke="#000" stroke-width="3" stroke-linecap="round" stroke-linejoin="round">
<use href="#d" x="2329.2" y="466.4"/><use href="#s" x="2329.2" y="538.7"/><use href="#a" x="2329.2" y="610.3"/></g>
<text class="ll" x="2373.8" y="479.9" textLength="267.6" lengthAdjust="spacingAndGlyphs">CAPICE Testing</text>
<text class="ll" x="2373.8" y="551.9" textLength="280.1" lengthAdjust="spacingAndGlyphs">CAPICE Training</text>
<text class="ll" x="2374.9" y="623.7">VKGL Oct. 2019</text>
<text class="lt" x="2293.3" y="774.5">Classification</text>
<circle cx="2329.2" cy="827.6" r="9.6" fill="#21FF06"/><circle cx="2329.2" cy="899.5" r="9.6" fill="#FB0007"/><circle cx="2329.2" cy="971.6" r="9.6" fill="#0000FF"/>
<text class="ll" x="2373.4" y="840.5">LB/B</text>
<text class="ll" x="2373.4" y="912.4">LP/P</text>
<text class="ll" x="2374" y="984.5">VUS</text>
</svg></body></html>
